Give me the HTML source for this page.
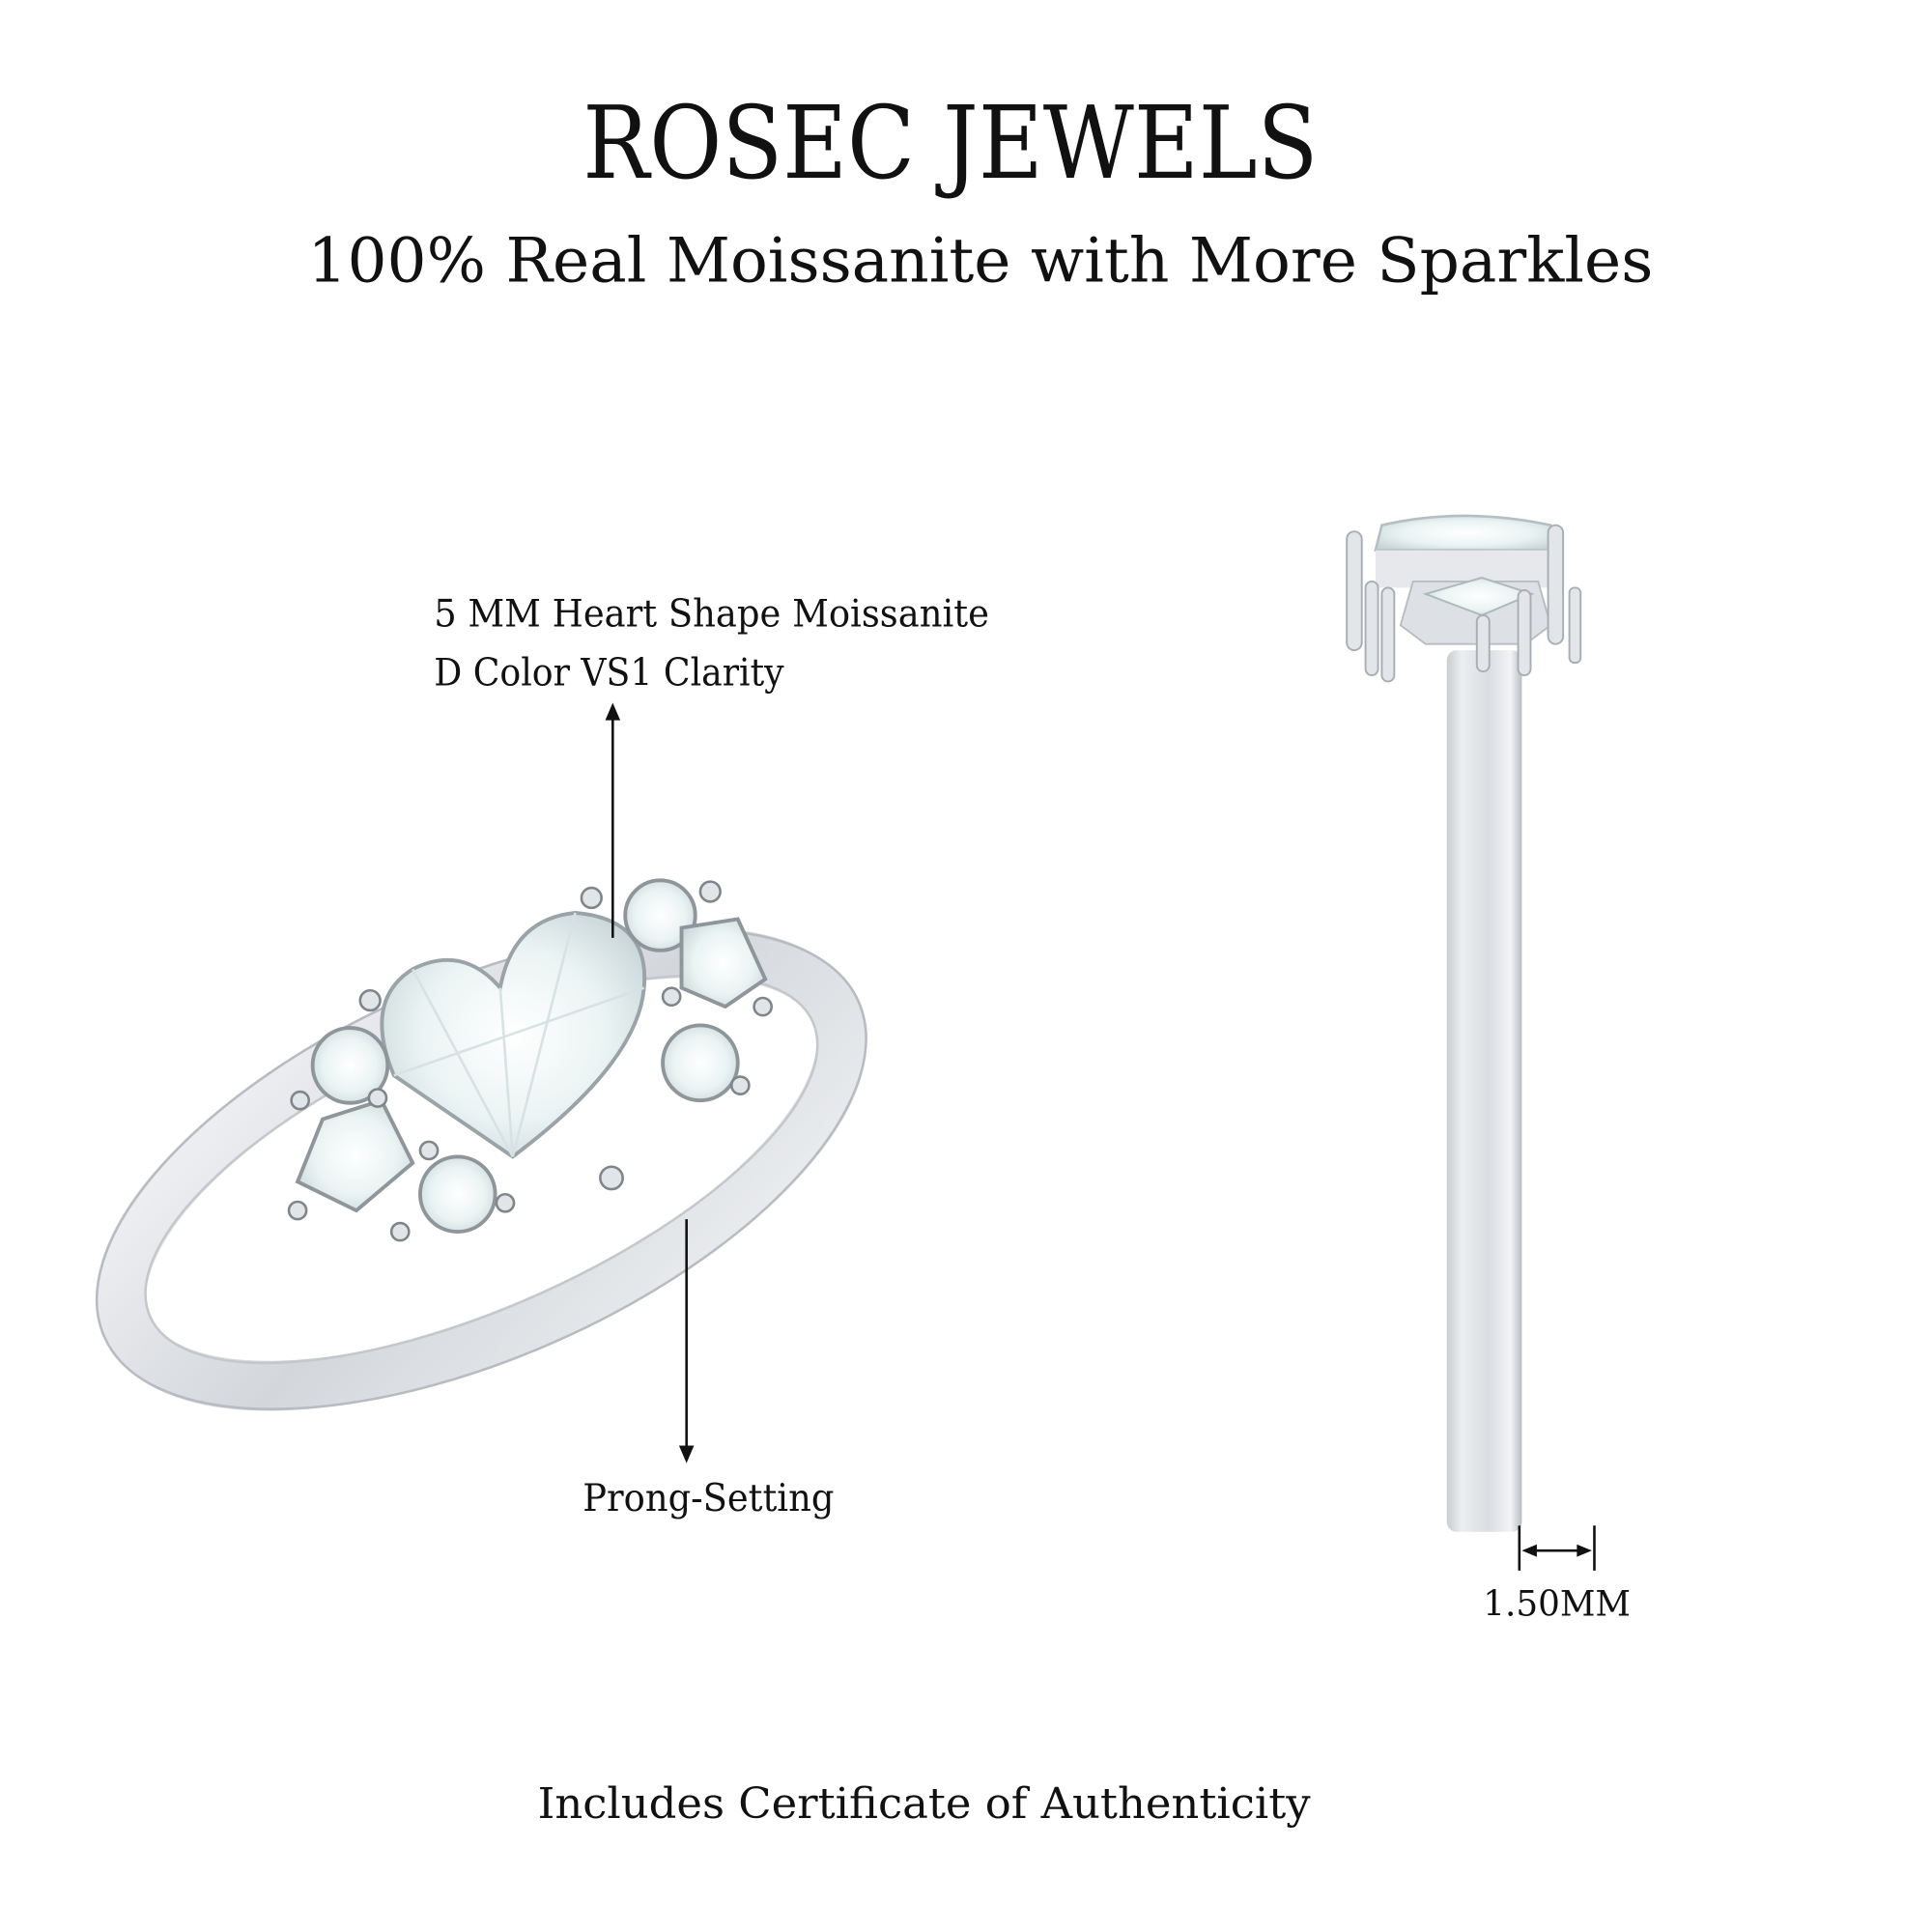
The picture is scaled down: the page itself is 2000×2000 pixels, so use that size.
<!DOCTYPE html>
<html><head><meta charset="utf-8"><style>
html,body{margin:0;padding:0;background:#fff;width:2000px;height:2000px;overflow:hidden}
svg{display:block}
text{font-family:"DejaVu Serif","Liberation Serif",serif;fill:#111}
</style></head><body>
<svg width="2000" height="2000" viewBox="0 0 1545 1545" xmlns="http://www.w3.org/2000/svg">
<defs>
<linearGradient id="metal" x1="0" y1="0" x2="1" y2="1">
<stop offset="0" stop-color="#f4f5f7"/><stop offset="0.5" stop-color="#d3d6db"/><stop offset="1" stop-color="#eef0f2"/></linearGradient>
<linearGradient id="shank" x1="0" y1="0" x2="1" y2="0">
<stop offset="0" stop-color="#c9ccd1"/><stop offset="0.2" stop-color="#eceef0"/><stop offset="0.55" stop-color="#dadde1"/><stop offset="0.85" stop-color="#f2f3f5"/><stop offset="1" stop-color="#b9bdc3"/></linearGradient>
<radialGradient id="gem" cx="0.5" cy="0.5" r="0.6">
<stop offset="0" stop-color="#ffffff"/><stop offset="0.6" stop-color="#eaf3f3"/><stop offset="1" stop-color="#c9d6d8"/></radialGradient>
</defs>
<rect width="1545" height="1545" fill="#fff"/>

<text x="760" y="142" font-size="80" text-anchor="middle" textLength="588" lengthAdjust="spacingAndGlyphs">ROSEC JEWELS</text>
<text x="784" y="225" font-size="49" text-anchor="middle" textLength="1076" lengthAdjust="spacingAndGlyphs">100% Real Moissanite with More Sparkles</text>

<text x="347" y="501" font-size="30" textLength="444" lengthAdjust="spacingAndGlyphs">5 MM Heart Shape Moissanite</text>
<text x="347" y="548" font-size="30" textLength="280" lengthAdjust="spacingAndGlyphs">D Color VS1 Clarity</text>

<!-- left ring band -->
<g transform="rotate(-24 385 935)">
<ellipse cx="385" cy="935" rx="310" ry="130" fill="none" stroke="url(#metal)" stroke-width="40"/>
<ellipse cx="385" cy="935" rx="330" ry="150" fill="none" stroke="#b8bcc2" stroke-width="2"/>
<ellipse cx="385" cy="935" rx="290" ry="110" fill="none" stroke="#c4c8cd" stroke-width="2"/>
</g>
<!-- heart gem -->
<path d="M410 925 L315 860 Q290 800 330 775 Q370 755 400 790 Q410 735 460 730 Q520 735 515 790 Q510 850 410 925 Z" fill="url(#gem)" stroke="#9aa3a8" stroke-width="3"/>
<path d="M410 925 L400 790 M410 925 L330 775 M410 925 L460 730 M315 860 L515 790" stroke="#d6e2e3" stroke-width="2" fill="none"/>
<!-- side stones -->
<circle cx="280" cy="852" r="30" fill="url(#gem)" stroke="#8e969c" stroke-width="3"/>
<circle cx="366" cy="955" r="30" fill="url(#gem)" stroke="#8e969c" stroke-width="3"/>
<circle cx="528" cy="732" r="28" fill="url(#gem)" stroke="#8e969c" stroke-width="3"/>
<circle cx="560" cy="850" r="30" fill="url(#gem)" stroke="#8e969c" stroke-width="3"/>
<path d="M258 895 L305 880 L330 930 L285 968 L238 945 Z" fill="url(#gem)" stroke="#8e969c" stroke-width="3"/>
<path d="M545 742 L590 735 L612 783 L580 805 L545 790 Z" fill="url(#gem)" stroke="#8e969c" stroke-width="3"/>
<g fill="#e2e5e8" stroke="#7e868c" stroke-width="2">
<circle cx="296" cy="800" r="8"/><circle cx="489" cy="942" r="9"/><circle cx="473" cy="718" r="8"/><circle cx="568" cy="713" r="8"/>
<circle cx="240" cy="880" r="7"/><circle cx="302" cy="878" r="7"/><circle cx="238" cy="968" r="7"/><circle cx="320" cy="985" r="7"/>
<circle cx="404" cy="962" r="7"/><circle cx="343" cy="920" r="7"/><circle cx="537" cy="797" r="7"/><circle cx="610" cy="805" r="7"/><circle cx="592" cy="868" r="7"/>
</g>

<!-- arrows -->
<line x1="490" y1="575" x2="490" y2="750" stroke="#111" stroke-width="2"/>
<path d="M484 576 L490 562 L496 576 Z" fill="#111"/>
<line x1="549" y1="975" x2="549" y2="1157" stroke="#111" stroke-width="2"/>
<path d="M543 1156 L549 1170 L555 1156 Z" fill="#111"/>
<text x="466" y="1208" font-size="30" textLength="201" lengthAdjust="spacingAndGlyphs">Prong-Setting</text>

<!-- right ring -->
<rect x="1157" y="520" width="60" height="705" rx="8" fill="url(#shank)"/>
<path d="M1100 440 L1105 420 Q1170 405 1240 420 L1245 440 Z" fill="url(#gem)" stroke="#b5bfc3" stroke-width="2"/>
<path d="M1100 440 L1250 440 L1250 470 L1100 470 Z" fill="#e6e8eb"/>
<path d="M1130 465 L1230 465 L1240 500 L1220 515 L1140 515 L1120 500 Z" fill="#dde0e4" stroke="#b9bdc2" stroke-width="1.5"/>
<path d="M1140 475 L1185 462 L1225 475 L1185 492 Z" fill="url(#gem)" stroke="#aeb8bc" stroke-width="1.5"/>
<g fill="#e3e6e9" stroke="#a9aeb4" stroke-width="1.5">
<rect x="1077" y="425" width="12" height="95" rx="6"/><rect x="1238" y="420" width="12" height="95" rx="6"/>
<rect x="1092" y="465" width="10" height="75" rx="5"/><rect x="1105" y="470" width="10" height="75" rx="5"/>
<rect x="1181" y="492" width="10" height="45" rx="5"/><rect x="1214" y="472" width="10" height="68" rx="5"/><rect x="1255" y="470" width="9" height="60" rx="4"/>
</g>
<line x1="1215" y1="1220" x2="1215" y2="1256" stroke="#111" stroke-width="2"/>
<line x1="1275" y1="1220" x2="1275" y2="1256" stroke="#111" stroke-width="2"/>
<line x1="1222" y1="1240" x2="1268" y2="1240" stroke="#111" stroke-width="2"/>
<path d="M1229 1235 L1217 1240 L1229 1245 Z M1261 1235 L1273 1240 L1261 1245 Z" fill="#111"/>
<text x="1186" y="1292" font-size="28" textLength="118" lengthAdjust="spacingAndGlyphs" font-family="Liberation Serif">1.50MM</text>

<text x="430" y="1454" font-size="34" textLength="618" lengthAdjust="spacingAndGlyphs">Includes Certificate of Authenticity</text>
</svg>
</body></html>
